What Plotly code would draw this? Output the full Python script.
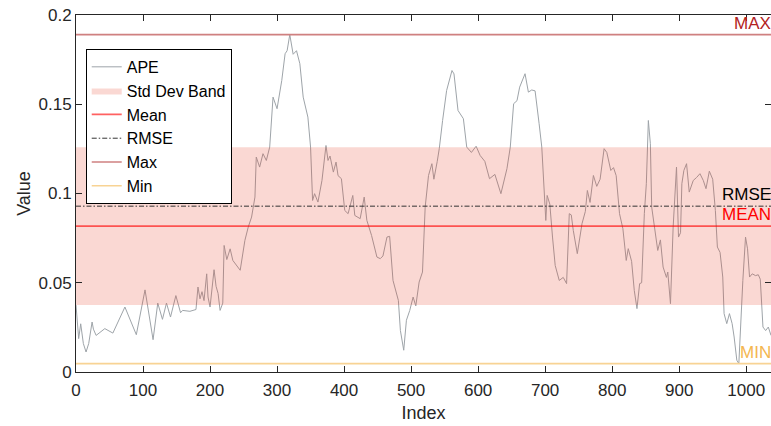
import plotly.graph_objects as go

# Absolute percentage error per sample index
index = [0, 4, 7, 11, 15, 19, 24, 26, 30, 35, 43, 55, 73, 90, 103, 115, 122, 129, 135, 141,
         149, 156, 159, 170, 179, 182, 185, 188, 191, 195, 197, 200, 203, 206, 209, 212, 215, 219, 221, 225,
         230, 234, 245, 252, 257, 262, 267, 269, 274, 279, 284, 289, 294, 300, 307, 312, 315, 319, 324, 329,
         334, 339, 346, 350, 353, 356, 361, 367, 373, 376, 379, 384, 388, 391, 396, 401, 406, 413, 416, 424,
         430, 434, 441, 449, 454, 458, 464, 468, 473, 481, 484, 489, 493, 498, 503, 507, 512, 517, 521, 526,
         531, 534, 539, 542, 547, 553, 561, 564, 570, 578, 583, 590, 597, 603, 610, 617, 625, 634, 643, 648,
         653, 658, 662, 667, 670, 675, 680, 685, 688, 691, 695, 698, 701, 703, 707, 711, 715, 721, 727, 732,
         736, 739, 742, 748, 755, 760, 763, 767, 772, 777, 782, 788, 792, 798, 802, 806, 811, 816, 821, 824,
         829, 833, 837, 841, 844, 848, 851, 854, 857, 859, 864, 868, 872, 876, 881, 883, 887, 891, 896, 899,
         902, 904, 907, 911, 915, 921, 926, 931, 936, 940, 945, 950, 954, 957, 961, 965, 967, 971, 975, 979,
         982, 986, 989, 992, 995, 999, 1002, 1005, 1009, 1014, 1018, 1021, 1025, 1029, 1033, 1037]
ape = [0.0375, 0.0187, 0.027, 0.0159, 0.0112, 0.016, 0.028, 0.024, 0.0205, 0.022, 0.0243, 0.0218, 0.0364, 0.0209, 0.046, 0.0181, 0.0386, 0.0295, 0.0386, 0.0308,
       0.0428, 0.0332, 0.0345, 0.034, 0.035, 0.0476, 0.041, 0.045, 0.040, 0.055, 0.042, 0.0364, 0.048, 0.0573, 0.048, 0.044, 0.0345, 0.0386, 0.0709, 0.063,
       0.069, 0.0625, 0.057, 0.0737, 0.0812, 0.0868, 0.098, 0.1204, 0.1148, 0.1223, 0.1185, 0.126, 0.154, 0.1475, 0.1633, 0.1783, 0.180, 0.189, 0.178, 0.180,
       0.1727, 0.154, 0.1428, 0.126, 0.0961, 0.0999, 0.0952, 0.1073, 0.1269, 0.1185, 0.121, 0.112, 0.1176, 0.110, 0.1083, 0.0905, 0.0887, 0.0989, 0.0877, 0.0859,
       0.098, 0.0849, 0.0765, 0.0644, 0.0635, 0.065, 0.0756, 0.076, 0.0513, 0.0401, 0.0233, 0.0122, 0.029, 0.0345, 0.042, 0.037, 0.0504, 0.056, 0.0924, 0.1101,
       0.1167, 0.108, 0.118, 0.1251, 0.1409, 0.1577, 0.1689, 0.167, 0.1465, 0.1419, 0.126, 0.123, 0.1265, 0.1213, 0.118, 0.1083, 0.1107, 0.0999, 0.1139, 0.126,
       0.1503, 0.152, 0.1596, 0.1643, 0.1671, 0.1568, 0.158, 0.1575, 0.1465, 0.1391, 0.126, 0.1073, 0.0849, 0.0989, 0.094, 0.0756, 0.0597, 0.0513, 0.053, 0.0495,
       0.0887, 0.088, 0.0793, 0.0663, 0.0831, 0.090, 0.1017, 0.095, 0.1101, 0.104, 0.108, 0.1251, 0.123, 0.1129, 0.1145, 0.110, 0.0887, 0.0803, 0.0625, 0.0691,
       0.062, 0.0457, 0.0355, 0.0495, 0.050, 0.0887, 0.1055, 0.1409, 0.1279, 0.0924, 0.0793, 0.0681, 0.074, 0.0588, 0.053, 0.056, 0.0383, 0.0812, 0.1148, 0.0756,
       0.078, 0.1055, 0.1129, 0.1167, 0.1008, 0.1073, 0.109, 0.1111, 0.1073, 0.1027, 0.1125, 0.108, 0.0905, 0.070, 0.067, 0.0532, 0.0327, 0.0271, 0.0327, 0.0271,
       0.0196, 0.0066, 0.0047, 0.029, 0.0513, 0.0756, 0.069, 0.0532, 0.055, 0.054, 0.0545, 0.052, 0.0252, 0.0232, 0.0252, 0.0205]

# Summary statistics of the error series
ape_mean = 0.0817
ape_std = 0.0442
ape_rmse = 0.0929
ape_max = 0.189
ape_min = 0.0047

x_ticks = [0, 100, 200, 300, 400, 500, 600, 700, 800, 900, 1000]
y_ticks = [0, 0.05, 0.1, 0.15, 0.2]
y_tick_text = ["0", "0.05", "0.1", "0.15", "0.2"]

FONT = "Liberation Sans, Arial, Helvetica, sans-serif"
INK = "#262626"

x0, x1 = index[0], index[-1]
band_lo = ape_mean - ape_std
band_hi = ape_mean + ape_std

fig = go.Figure()

fig.add_trace(go.Scatter(x=index, y=ape, mode="lines", name="APE",
                         line=dict(color="#9ea4a9", width=1)))
fig.add_trace(go.Scatter(x=[x0, x1, x1, x0, x0], y=[band_lo, band_lo, band_hi, band_hi, band_lo],
                         mode="lines", fill="toself", name="Std Dev Band",
                         fillcolor="rgba(230,60,35,0.2)", line=dict(width=0)))
fig.add_trace(go.Scatter(x=[x0, x1], y=[ape_mean, ape_mean], mode="lines", name="Mean",
                         line=dict(color="rgba(255,0,0,0.62)", width=1.6)))
fig.add_trace(go.Scatter(x=[x0, x1], y=[ape_rmse, ape_rmse], mode="lines", name="RMSE",
                         line=dict(color="#333333", width=1, dash="5px,2px,1.5px,2px")))
fig.add_trace(go.Scatter(x=[x0, x1], y=[ape_max, ape_max], mode="lines", name="Max",
                         line=dict(color="#cf8080", width=1.6)))
fig.add_trace(go.Scatter(x=[x0, x1], y=[ape_min, ape_min], mode="lines", name="Min",
                         line=dict(color="#f8d394", width=1.6)))

# Invisible trace carrying the right-hand tick marks
fig.add_trace(go.Scatter(x=[x0], y=[0], yaxis="y2", mode="markers", showlegend=False,
                         marker=dict(opacity=0), hoverinfo="skip"))

labels = [("MAX", ape_max, "#b22222"), ("RMSE", ape_rmse, "#000000"),
          ("MEAN", ape_mean, "#ff0000"), ("MIN", ape_min, "#f4b650")]
for text, yv, col in labels:
    fig.add_annotation(x=x1, y=yv, text=text, showarrow=False, xanchor="right",
                       yanchor="bottom", xshift=2, yshift=0,
                       font=dict(family=FONT, size=17, color=col))

fig.update_layout(
    width=771, height=426,
    margin=dict(l=76, r=0, t=15, b=54),
    paper_bgcolor="white", plot_bgcolor="white",
    font=dict(family=FONT, size=17, color=INK),
    showlegend=True,
    legend=dict(x=0.014, y=0.905, xanchor="left", yanchor="top",
                bgcolor="white", bordercolor="#000000", borderwidth=1,
                font=dict(family=FONT, size=16, color="#000000"),
                itemwidth=30, tracegroupgap=0),
    xaxis=dict(range=[x0, x1], tickvals=x_ticks, ticks="inside", ticklen=6,
               tickcolor=INK, showline=True, linecolor=INK, linewidth=1,
               mirror="ticks", showgrid=False, zeroline=False, ticklabelstandoff=3,
               title=dict(text="Index", standoff=6, font=dict(size=18, color=INK)),
               tickfont=dict(size=17, color=INK)),
    yaxis=dict(range=[0, 0.2], tickvals=y_ticks, ticktext=y_tick_text, ticks="inside",
               ticklen=6, tickcolor=INK, showline=True, linecolor=INK, linewidth=1,
               showgrid=False, zeroline=False,
               title=dict(text="Value", standoff=3, font=dict(size=18, color=INK)),
               tickfont=dict(size=17, color=INK)),
    yaxis2=dict(range=[0, 0.2], overlaying="y", side="right", tickvals=y_ticks,
                ticks="inside", ticklen=6, tickcolor=INK, showticklabels=False,
                showline=False, showgrid=False, zeroline=False),
)

fig.write_html("out.html")
